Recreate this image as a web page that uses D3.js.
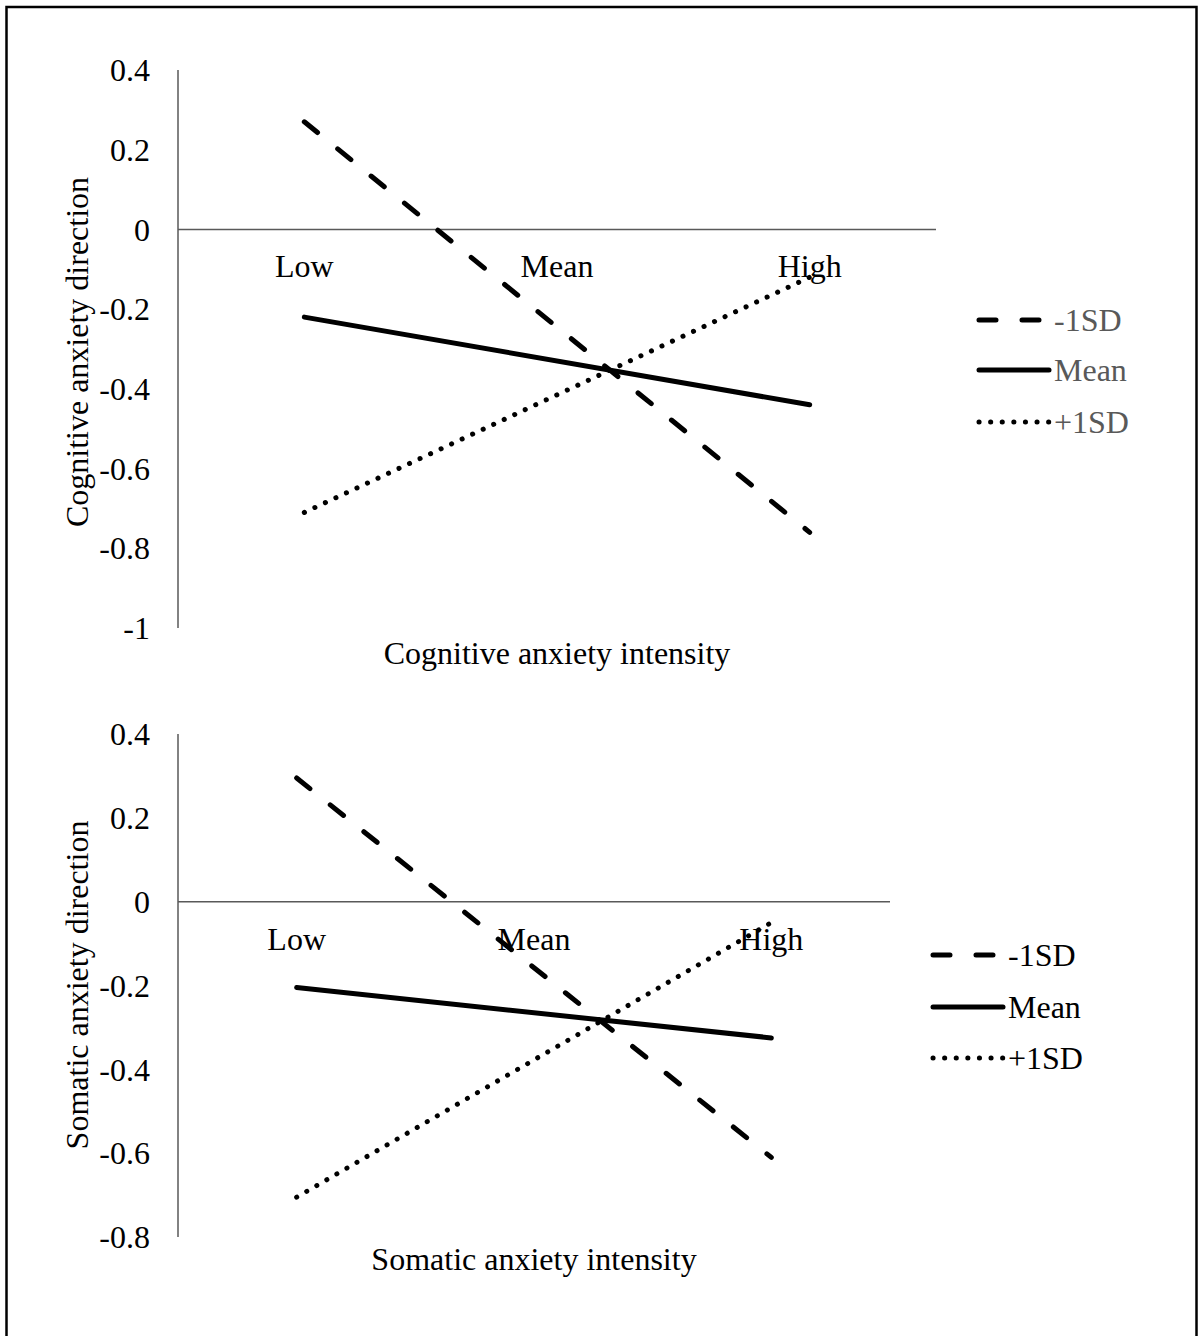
<!DOCTYPE html>
<html>
<head>
<meta charset="utf-8">
<script src="https://cdn.jsdelivr.net/npm/d3@7"></script>
<style>
  html, body { margin: 0; padding: 0; background: #fff; }
  svg text { font-family: "Liberation Serif", "Times New Roman", serif; }
</style>
</head>
<body>
<svg id="chart" width="1200" height="1336"></svg>
<script>
// Categories (x axis)
const levels = ['Low', 'Mean', 'High'];
// values are plotted at Low and High only
const plotLevels = ['Low', 'High'];

// Series names
const seriesNames = ['-1SD', 'Mean', '+1SD'];

// Top panel: cognitive anxiety
const cogMinus1SD = [0.27, -0.76];
const cogMean = [-0.22, -0.44];
const cogPlus1SD = [-0.71, -0.12];
const cogTicks = [0.4, 0.2, 0, -0.2, -0.4, -0.6, -0.8, -1];

// Bottom panel: somatic anxiety
const somMinus1SD = [0.295, -0.61];
const somMean = [-0.205, -0.325];
const somPlus1SD = [-0.705, -0.05];
const somTicks = [0.4, 0.2, 0, -0.2, -0.4, -0.6, -0.8];

const svg = d3.select('#chart');
const FONT = 32;
const axisColor = '#595959';

// line styles for each series
const styles = {
  '-1SD': { dash: '17,26' },
  'Mean': { dash: null },
  '+1SD': { dash: '0.1,11.5' }
};

// outer frame
svg.append('rect')
  .attr('x', 6.5)
  .attr('y', 7)
  .attr('width', 1190)
  .attr('height', 1340)
  .attr('fill', 'none')
  .attr('stroke', '#000')
  .attr('stroke-width', 2.5);

function drawPanel(p) {
  const g = svg.append('g');

  const x = d3.scaleBand().domain(levels).range([p.left, p.right]).padding(0);
  const y = d3.scaleLinear().domain(p.yDomain).range([p.bottom, p.top]);

  // vertical axis line
  g.append('line')
    .attr('x1', p.left).attr('x2', p.left)
    .attr('y1', y(p.yDomain[1])).attr('y2', y(p.yDomain[0]))
    .attr('stroke', axisColor).attr('stroke-width', 1.5);

  // horizontal axis at zero
  g.append('line')
    .attr('x1', p.left).attr('x2', p.right)
    .attr('y1', y(0)).attr('y2', y(0))
    .attr('stroke', axisColor).attr('stroke-width', 1.5);

  // tick labels
  g.selectAll('.ytick')
    .data(p.ticks)
    .enter()
    .append('text')
    .attr('x', p.left - 28)
    .attr('y', (d) => y(d))
    .attr('dy', '0.35em')
    .attr('text-anchor', 'end')
    .attr('font-size', FONT)
    .attr('fill', '#000')
    .text((d) => d3.format('')(d).replace('−', '-'));

  // category labels below zero line
  g.selectAll('.xcat')
    .data(levels)
    .enter()
    .append('text')
    .attr('x', (d) => x(d) + x.bandwidth() / 2)
    .attr('y', y(0) + 48)
    .attr('text-anchor', 'middle')
    .attr('font-size', FONT)
    .attr('fill', '#000')
    .text((d) => d);

  // series lines
  const line = d3.line()
    .x((d) => x(d.level) + x.bandwidth() / 2)
    .y((d) => y(d.value));

  p.series.forEach((vals, i) => {
    const name = seriesNames[i];
    const pts = plotLevels.map((lv, j) => ({ level: lv, value: vals[j] }));
    g.append('path')
      .datum(pts)
      .attr('d', line)
      .attr('fill', 'none')
      .attr('stroke', '#000')
      .attr('stroke-width', 5)
      .attr('stroke-linecap', 'round')
      .attr('stroke-dasharray', styles[name].dash);
  });

  // legend
  seriesNames.forEach((name, i) => {
    const ly = p.legendY[i];
    g.append('line')
      .attr('x1', p.legendX).attr('x2', p.legendX + 70)
      .attr('y1', ly).attr('y2', ly)
      .attr('stroke', '#000')
      .attr('stroke-width', 5)
      .attr('stroke-linecap', 'round')
      .attr('stroke-dasharray', styles[name].dash);
    g.append('text')
      .attr('x', p.legendX + 75)
      .attr('y', ly)
      .attr('dy', '0.35em')
      .attr('font-size', FONT)
      .attr('fill', p.legendColor)
      .text(name);
  });

  // axis titles
  g.append('text')
    .attr('transform', `translate(${p.yTitleX},${p.yTitleY}) rotate(-90)`)
    .attr('text-anchor', 'middle')
    .attr('font-size', FONT)
    .attr('fill', '#000')
    .text(p.yTitle);

  g.append('text')
    .attr('x', (p.left + p.right) / 2)
    .attr('y', p.xTitleY)
    .attr('text-anchor', 'middle')
    .attr('font-size', FONT)
    .attr('fill', '#000')
    .text(p.xTitle);
}

drawPanel({
  left: 178, right: 936, top: 70, bottom: 628,
  yDomain: [-1, 0.4],
  ticks: cogTicks,
  series: [cogMinus1SD, cogMean, cogPlus1SD],
  legendX: 979, legendY: [320, 370, 422],
  legendColor: '#595959',
  yTitle: 'Cognitive anxiety direction', yTitleX: 88, yTitleY: 352,
  xTitle: 'Cognitive anxiety intensity', xTitleY: 664
});

drawPanel({
  left: 178, right: 890, top: 734, bottom: 1237,
  yDomain: [-0.8, 0.4],
  ticks: somTicks,
  series: [somMinus1SD, somMean, somPlus1SD],
  legendX: 933, legendY: [955, 1007, 1058],
  legendColor: '#000',
  yTitle: 'Somatic anxiety direction', yTitleX: 88, yTitleY: 985,
  xTitle: 'Somatic anxiety intensity', xTitleY: 1270
});
</script>
</body>
</html>
